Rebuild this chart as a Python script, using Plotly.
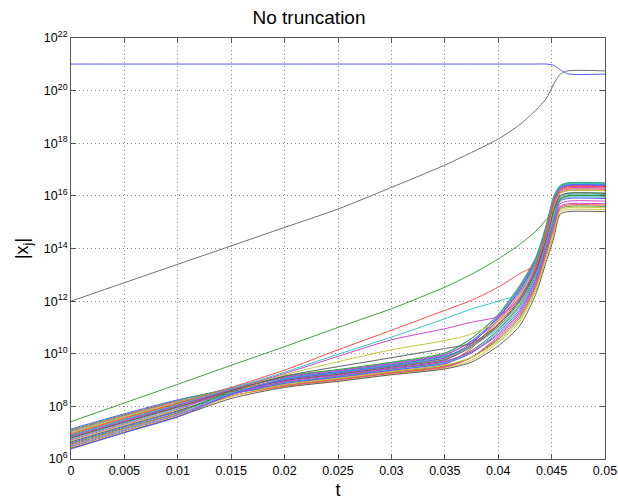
import plotly.graph_objects as go

# time grid (s)
T = [0, 0.005, 0.01, 0.015, 0.02, 0.025, 0.03, 0.035, 0.0375, 0.04, 0.042, 0.0435, 0.0445, 0.0452, 0.0458, 0.0465, 0.05]

# log10 |x_j|
BLUE_TOP = [21.01, 21.01, 21.01, 21.01, 21.01, 21.01, 21.01, 21.01, 21.01, 21.01, 21.01, 21.01, 21.01, 20.96, 20.80, 20.64, 20.63]
BLACK_TOP = [12.0, 12.7, 13.4, 14.1, 14.8, 15.5, 16.32, 17.17, 17.65, 18.16, 18.7, 19.25, 19.7, 20.25, 20.62, 20.75, 20.75]
GREEN_UP = [7.42, 8.13, 8.84, 9.56, 10.27, 11.0, 11.71, 12.53, 13.02, 13.6, 14.15, 14.65, 15.1, 15.45, 15.85, 16.0, 16.0]
RED_UP = [6.95, 7.55, 8.12, 8.72, 9.38, 10.15, 10.89, 11.65, 12.03, 12.53, 13.04, 13.4, 14.7, 15.85, 16.25, 16.35, 16.35]
CYAN_UP = [6.9, 7.5, 8.08, 8.68, 9.3, 9.98, 10.63, 11.33, 11.7, 12.0, 12.3, 13.5, 14.75, 15.9, 16.35, 16.45, 16.45]
MAGENTA_UP = [6.85, 7.45, 8.03, 8.65, 9.25, 9.9, 10.53, 10.95, 11.2, 11.42, 12.1, 13.3, 14.55, 15.7, 16.2, 16.3, 16.3]
YELLOW_UP = [7.0, 7.6, 8.14, 8.66, 9.2, 9.7, 10.15, 10.5, 10.75, 11.25, 12.2, 13.3, 14.5, 15.6, 16.1, 16.2, 16.2]
GREY_UP = [6.8, 7.4, 7.98, 8.6, 9.15, 9.51, 9.85, 10.2, 10.4, 11.1, 12.0, 13.1, 14.35, 15.45, 16.0, 16.1, 16.1]

BUNDLE = [
    [7.14, 7.72, 8.25, 8.65, 8.96, 9.20, 9.46, 9.75, 10.37, 11.44, 12.52, 13.58, 14.83, 15.92, 16.35, 16.45, 16.45],
    [7.10, 7.68, 8.22, 8.69, 9.06, 9.31, 9.58, 9.90, 10.32, 11.02, 11.98, 13.09, 14.34, 15.36, 16.00, 16.10, 16.10],
    [7.06, 7.65, 8.19, 8.57, 8.85, 9.09, 9.34, 9.60, 10.21, 11.32, 12.37, 13.44, 14.69, 15.76, 16.25, 16.35, 16.35],
    [7.03, 7.62, 8.16, 8.71, 9.13, 9.38, 9.66, 10.00, 10.58, 11.50, 12.60, 13.65, 14.90, 16.00, 16.40, 16.50, 16.50],
    [6.99, 7.58, 8.12, 8.50, 8.76, 9.00, 9.25, 9.48, 9.86, 10.66, 11.52, 12.67, 13.92, 14.88, 15.60, 15.70, 15.70],
    [6.96, 7.55, 8.09, 8.62, 9.00, 9.24, 9.51, 9.81, 10.32, 11.20, 12.21, 13.30, 14.55, 15.60, 16.20, 16.30, 16.30],
    [6.91, 7.50, 8.06, 8.56, 8.91, 9.15, 9.42, 9.69, 10.12, 10.90, 11.83, 12.95, 14.20, 15.20, 15.90, 16.00, 16.00],
    [6.88, 7.48, 8.03, 8.64, 9.09, 9.33, 9.61, 9.94, 10.49, 11.38, 12.45, 13.51, 14.76, 15.84, 16.32, 16.42, 16.42],
    [6.84, 7.43, 7.99, 8.48, 8.81, 9.04, 9.30, 9.54, 9.86, 10.54, 11.36, 12.53, 13.78, 14.72, 15.50, 15.60, 15.60],
    [6.80, 7.40, 7.96, 8.58, 9.02, 9.27, 9.54, 9.85, 10.32, 11.14, 12.14, 13.23, 14.48, 15.52, 16.15, 16.25, 16.25],
    [6.76, 7.36, 7.93, 8.50, 8.89, 9.13, 9.39, 9.66, 10.07, 10.84, 11.75, 12.88, 14.13, 15.12, 15.85, 15.95, 15.95],
    [6.72, 7.32, 7.89, 8.60, 9.11, 9.36, 9.63, 9.97, 10.46, 11.26, 12.29, 13.37, 14.62, 15.68, 16.28, 16.38, 16.38],
    [6.68, 7.29, 7.86, 8.40, 8.74, 8.97, 9.22, 9.45, 9.75, 10.42, 11.21, 12.39, 13.64, 14.56, 15.38, 15.48, 15.48],
    [6.65, 7.25, 7.83, 8.51, 8.98, 9.22, 9.49, 9.78, 10.26, 11.08, 12.06, 13.16, 14.41, 15.44, 16.10, 16.20, 16.20],
    [6.61, 7.22, 7.80, 8.45, 8.87, 9.11, 9.37, 9.63, 10.03, 10.78, 11.67, 12.81, 14.06, 15.04, 15.80, 15.90, 15.90],
    [6.57, 7.18, 7.76, 8.58, 9.15, 9.40, 9.68, 10.03, 10.59, 11.46, 12.55, 13.61, 14.86, 15.95, 16.38, 16.48, 16.48],
    [6.53, 7.14, 7.73, 8.38, 8.78, 9.02, 9.27, 9.51, 9.86, 10.60, 11.44, 12.60, 13.85, 14.80, 15.55, 15.65, 15.65],
    [6.49, 7.11, 7.70, 8.50, 9.04, 9.29, 9.56, 9.88, 10.28, 10.96, 11.90, 13.02, 14.27, 15.28, 15.95, 16.05, 16.05],
    [6.46, 7.07, 7.67, 8.44, 8.94, 9.18, 9.44, 9.72, 10.07, 10.72, 11.59, 12.74, 13.99, 14.96, 15.70, 15.80, 15.80],
    [6.42, 7.04, 7.63, 8.37, 8.83, 9.06, 9.32, 9.57, 9.86, 10.48, 11.28, 12.46, 13.71, 14.64, 15.45, 15.55, 15.55],
    [6.40, 7.01, 7.61, 8.30, 8.72, 8.95, 9.20, 9.42, 9.68, 10.30, 11.05, 12.25, 13.50, 14.40, 15.30, 15.40, 15.40],
    [6.38, 7.00, 7.60, 8.46, 9.02, 9.27, 9.54, 9.85, 10.41, 11.36, 12.41, 13.48, 14.73, 15.81, 16.30, 16.40, 16.40],
]

# MATLAB-like colour order (slightly lightened, as rendered)
COLORS = ["#5a5aff", "#3f9f3f", "#ff4a4a", "#33c4c4", "#cc44cc", "#c8c83a", "#606060"]

X_TICKS = [0, 0.005, 0.01, 0.015, 0.02, 0.025, 0.03, 0.035, 0.04, 0.045, 0.05]
X_TICK_TEXT = ["0", "0.005", "0.01", "0.015", "0.02", "0.025", "0.03", "0.035", "0.04", "0.045", "0.05"]
Y_EXPONENTS = [6, 8, 10, 12, 14, 16, 18, 20, 22]

fig = go.Figure()

def add(vals, color):
    fig.add_trace(go.Scatter(
        x=T, y=[10.0 ** v for v in vals], mode="lines",
        line=dict(color=color, width=1, shape="spline", smoothing=0.7),
        showlegend=False, hoverinfo="skip"))

for i, row in enumerate(BUNDLE):
    add(row, COLORS[i % len(COLORS)])

add(GREY_UP, COLORS[6])
add(YELLOW_UP, COLORS[5])
add(MAGENTA_UP, COLORS[4])
add(CYAN_UP, COLORS[3])
add(RED_UP, COLORS[2])
add(GREEN_UP, COLORS[1])
add(BLACK_TOP, "#707070")
add(BLUE_TOP, COLORS[0])

font_family = "Liberation Sans, Arial, Helvetica, sans-serif"

fig.update_layout(
    width=618, height=504,
    margin=dict(l=71, r=13, t=38, b=45, autoexpand=False),
    paper_bgcolor="white", plot_bgcolor="white",
    font=dict(family=font_family, size=12.5, color="black"),
    title=dict(text="No truncation", x=0.5, xanchor="center", y=0.965, yanchor="middle",
               font=dict(size=19, family=font_family)),
)

fig.update_xaxes(
    range=[0, 0.05], tickvals=X_TICKS, ticktext=X_TICK_TEXT, automargin=False,
    showline=True, linecolor="#555555", linewidth=1, mirror="ticks",
    ticks="inside", ticklen=5, tickcolor="#555555",
    showgrid=True, gridcolor="#8a8a8a", griddash="1px,3px", gridwidth=1,
    zeroline=False,
    title=dict(text="t", font=dict(size=18), standoff=6),
    tickfont=dict(size=12.5),
)

fig.update_yaxes(
    type="log", range=[6, 22], automargin=False,
    tickvals=[10.0 ** e for e in Y_EXPONENTS],
    ticktext=["10<sup>%d</sup>" % e for e in Y_EXPONENTS],
    showline=True, linecolor="#555555", linewidth=1, mirror="ticks",
    ticks="inside", ticklen=5, tickcolor="#555555",
    showgrid=True, gridcolor="#8a8a8a", griddash="1px,3px", gridwidth=1,
    zeroline=False,
    title=dict(text="|x<sub>j</sub>|", font=dict(size=18), standoff=10),
    tickfont=dict(size=12.5),
)

# remove the page's default body margin so the 618x504 figure fills the window exactly
fig.write_html("out.html",
               config={"displayModeBar": False},
               post_script="document.body.style.margin='0';document.body.style.overflow='hidden';")
